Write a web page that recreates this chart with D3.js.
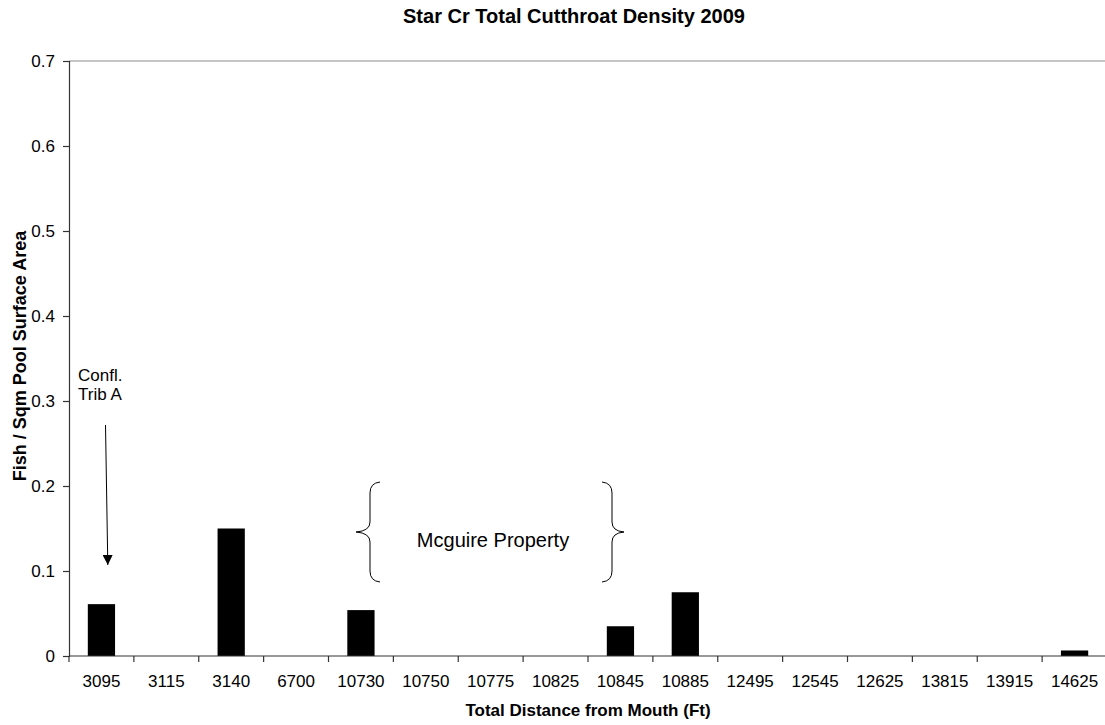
<!DOCTYPE html>
<html>
<head>
<meta charset="utf-8">
<script src="https://cdn.jsdelivr.net/npm/d3@7"></script>
<style>
  body { margin: 0; background: #fff; }
  text { font-family: "Liberation Sans", Arial, sans-serif; fill: #000; }
</style>
</head>
<body>
<svg id="chart" width="1105" height="725"></svg>
<script>
// data
var categories = ["3095","3115","3140","6700","10730","10750","10775","10825","10845","10885","12495","12545","12625","13815","13915","14625"];
var density    = [0.061, 0, 0.15, 0, 0.054, 0, 0, 0, 0.035, 0.075, 0, 0, 0, 0, 0, 0.0065];
var yTicks     = [0, 0.1, 0.2, 0.3, 0.4, 0.5, 0.6, 0.7];

var svg = d3.select("#chart"),
    margin = {top: 61, right: -2, bottom: 69, left: 69};
var width  = 1105 - margin.left - margin.right;
var height = 725 - margin.top - margin.bottom;
var canvas = svg.append("g").attr("transform", "translate(" + margin.left + "," + margin.top + ")");

var x = d3.scaleBand().domain(categories).range([0, width]).padding(0);
var y = d3.scaleLinear().domain([0, 0.7]).range([height, 0]);

// top border of plot area
canvas.append("line")
    .attr("x1", 0).attr("x2", width)
    .attr("y1", y(0.7)).attr("y2", y(0.7))
    .attr("stroke", "#8c8c8c").attr("stroke-width", 1.2);

// bars
var barW = x.bandwidth() * 0.42;
canvas.selectAll(".bar")
    .data(density)
  .enter().append("rect")
    .attr("class", "bar")
    .attr("x", function(d, i) { return x(categories[i]) + (x.bandwidth() - barW) / 2; })
    .attr("width", barW)
    .attr("y", function(d) { return y(d); })
    .attr("height", function(d) { return height - y(d); })
    .attr("fill", "#000");

// y axis
var yAxis = d3.axisLeft(y).tickValues(yTicks).tickSize(6).tickPadding(8)
    .tickFormat(function(d) { return d === 0 ? "0" : d3.format(".1f")(d); });
var gy = canvas.append("g").call(yAxis);
gy.selectAll("text").style("font-size", "17px").style("font-family", "Liberation Sans, Arial, sans-serif");
gy.selectAll("line, path").attr("stroke", "#333").attr("stroke-width", 1.2);

// x axis, ticks on band edges
var gx = canvas.append("g").attr("transform", "translate(0," + height + ")");
gx.append("line").attr("x1", 0).attr("x2", width).attr("stroke", "#333").attr("stroke-width", 1.2);
gx.selectAll(".edge")
    .data(categories)
  .enter().append("line")
    .attr("x1", function(d) { return x(d); })
    .attr("x2", function(d) { return x(d); })
    .attr("y1", 0).attr("y2", 6)
    .attr("stroke", "#333").attr("stroke-width", 1.2);
gx.selectAll(".lbl")
    .data(categories)
  .enter().append("text")
    .attr("x", function(d) { return x(d) + x.bandwidth() / 2; })
    .attr("y", 31)
    .attr("text-anchor", "middle")
    .style("font-size", "17px")
    .text(function(d) { return d; });

// titles
svg.append("text")
    .attr("x", 574).attr("y", 23)
    .attr("text-anchor", "middle")
    .style("font-size", "20px").style("font-weight", "bold")
    .text("Star Cr Total Cutthroat Density 2009");

svg.append("text")
    .attr("x", 588).attr("y", 716)
    .attr("text-anchor", "middle")
    .style("font-size", "17px").style("font-weight", "bold")
    .text("Total Distance from Mouth (Ft)");

svg.append("text")
    .attr("transform", "translate(26,356) rotate(-90)")
    .attr("text-anchor", "middle")
    .style("font-size", "18px").style("font-weight", "bold")
    .text("Fish / Sqm Pool Surface Area");

// annotation: Confl. Trib A
svg.append("defs").append("marker")
    .attr("id", "arrow").attr("viewBox", "0 0 10 10")
    .attr("refX", 10).attr("refY", 5)
    .attr("markerWidth", 11).attr("markerHeight", 10)
    .attr("markerUnits", "userSpaceOnUse")
    .attr("orient", "auto")
  .append("path").attr("d", "M0,0 L10,5 L0,10 Z").attr("fill", "#000");

svg.append("text").attr("x", 78).attr("y", 381).style("font-size", "17px").text("Confl.");
svg.append("text").attr("x", 78).attr("y", 400).style("font-size", "17px").text("Trib A");
svg.append("line")
    .attr("x1", 105.5).attr("y1", 425).attr("x2", 107.8).attr("y2", 565)
    .attr("stroke", "#000").attr("stroke-width", 1)
    .attr("marker-end", "url(#arrow)");

// annotation: Mcguire Property with braces
svg.append("path")
    .attr("d", "M380,482 Q370,483 370,493 L370,522 Q370,531 356,532 Q370,533 370,542 L370,571 Q370,581 380,582")
    .attr("fill", "none").attr("stroke", "#000").attr("stroke-width", 1);
svg.append("path")
    .attr("d", "M602,482 Q612,483 612,493 L612,522 Q612,531 624,532 Q612,533 612,542 L612,571 Q612,581 602,582")
    .attr("fill", "none").attr("stroke", "#000").attr("stroke-width", 1);
svg.append("text")
    .attr("x", 493).attr("y", 547)
    .attr("text-anchor", "middle")
    .style("font-size", "20px")
    .text("Mcguire Property");
</script>
</body>
</html>
